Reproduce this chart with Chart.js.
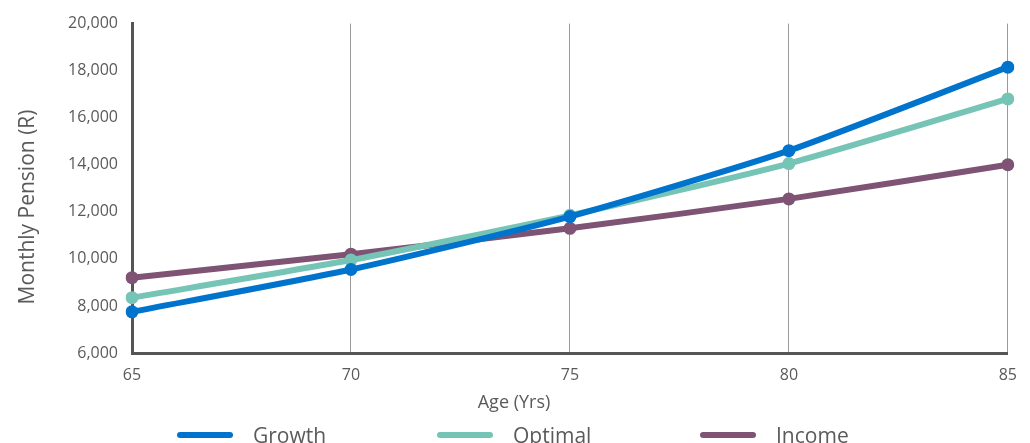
<!DOCTYPE html>
<html>
<head>
<meta charset="utf-8">
<script src="https://cdn.jsdelivr.net/npm/chart.js@4/dist/chart.umd.min.js"></script>
<style>
  html, body { margin: 0; padding: 0; background: #ffffff; }
  #wrap { width: 1030px; height: 443px; position: relative; }
</style>
</head>
<body>
<div id="wrap"><canvas id="pension"></canvas></div>
<script>
// Retirement age on the x axis
const ages = ['65', '70', '75', '80', '85'];

// Monthly pension (R) per strategy
const growth  = [7750, 9550, 11800, 14600, 18150];
const optimal = [8350, 9950, 11850, 14050, 16800];
const income  = [9200, 10200, 11300, 12550, 14000];

const seriesNames = ['Growth', 'Optimal', 'Income'];
const yTickMin = 6000;
const yTickMax = 20000;
const yTickStep = 2000;

const xTitle = 'Age (Yrs)';
const yTitle = 'Monthly Pension (R)';

const COLORS = ['#0074CC', '#76C4B5', '#7E5374'];
const TEXT = '#5a5a5a';
const FONT = '"Open Sans", "DejaVu Sans", sans-serif';

// Axis titles and the legend row are painted below / beside the plot
const annotations = {
  id: 'annotations',
  afterDraw(chart) {
    const ctx = chart.ctx;
    ctx.save();
    ctx.fillStyle = TEXT;

    // y-axis title
    ctx.font = '21px ' + FONT;
    ctx.textAlign = 'center';
    ctx.textBaseline = 'middle';
    ctx.translate(28, 207);
    ctx.rotate(-Math.PI / 2);
    ctx.fillText(yTitle, 0, 0);
    ctx.setTransform(1, 0, 0, 1, 0, 0);

    // x-axis title
    ctx.font = '18px ' + FONT;
    ctx.textAlign = 'center';
    ctx.textBaseline = 'middle';
    ctx.fillText(xTitle, 514, 403);

    // legend
    const starts = [177, 437, 700];
    ctx.font = '21px ' + FONT;
    ctx.textAlign = 'left';
    ctx.textBaseline = 'alphabetic';
    chart.data.datasets.forEach((ds, i) => {
      const x = starts[i];
      ctx.strokeStyle = ds.borderColor;
      ctx.lineWidth = 6;
      ctx.lineCap = 'round';
      ctx.beginPath();
      ctx.moveTo(x + 3, 435);
      ctx.lineTo(x + 53, 435);
      ctx.stroke();
      ctx.fillStyle = TEXT;
      ctx.fillText(ds.label, x + 76, 443);
    });
    ctx.restore();
  }
};

const makeSet = (label, data, color) => ({
  label,
  data,
  borderColor: color,
  backgroundColor: color,
  pointBackgroundColor: color,
  pointBorderColor: color,
  borderWidth: 6,
  pointBorderWidth: 0,
  pointRadius: 6.5,
  pointHoverRadius: 6.5,
  pointHoverBorderWidth: 0,
  tension: 0.2,
  fill: false
});

new Chart(document.getElementById('pension'), {
  type: 'line',
  data: {
    labels: ages,
    datasets: [
      makeSet(seriesNames[0], growth, COLORS[0]),
      makeSet(seriesNames[1], optimal, COLORS[1]),
      makeSet(seriesNames[2], income, COLORS[2])
    ]
  },
  options: {
    responsive: true,
    maintainAspectRatio: false,
    animation: false,
    layout: { padding: { top: 18, right: 22, left: 0, bottom: 0 } },
    plugins: {
      legend: { display: false },
      tooltip: { enabled: false }
    },
    scales: {
      x: {
        offset: false,
        afterFit(scale) { scale.height = 90; },
        grid: { display: true, color: '#9a9a9a', lineWidth: 1, drawTicks: false },
        border: { display: true, color: '#555555', width: 3 },
        ticks: { color: TEXT, font: { family: FONT, size: 16 }, padding: 13, maxRotation: 0 }
      },
      y: {
        min: yTickMin,
        max: yTickMax,
        afterFit(scale) { scale.width = 132; },
        grid: { display: false, drawTicks: false },
        border: { display: true, color: '#555555', width: 3 },
        ticks: {
          stepSize: yTickStep,
          color: TEXT,
          font: { family: FONT, size: 16 },
          padding: 14,
          callback: v => v.toLocaleString('en-US')
        }
      }
    }
  },
  plugins: [annotations]
});
</script>
</body>
</html>
